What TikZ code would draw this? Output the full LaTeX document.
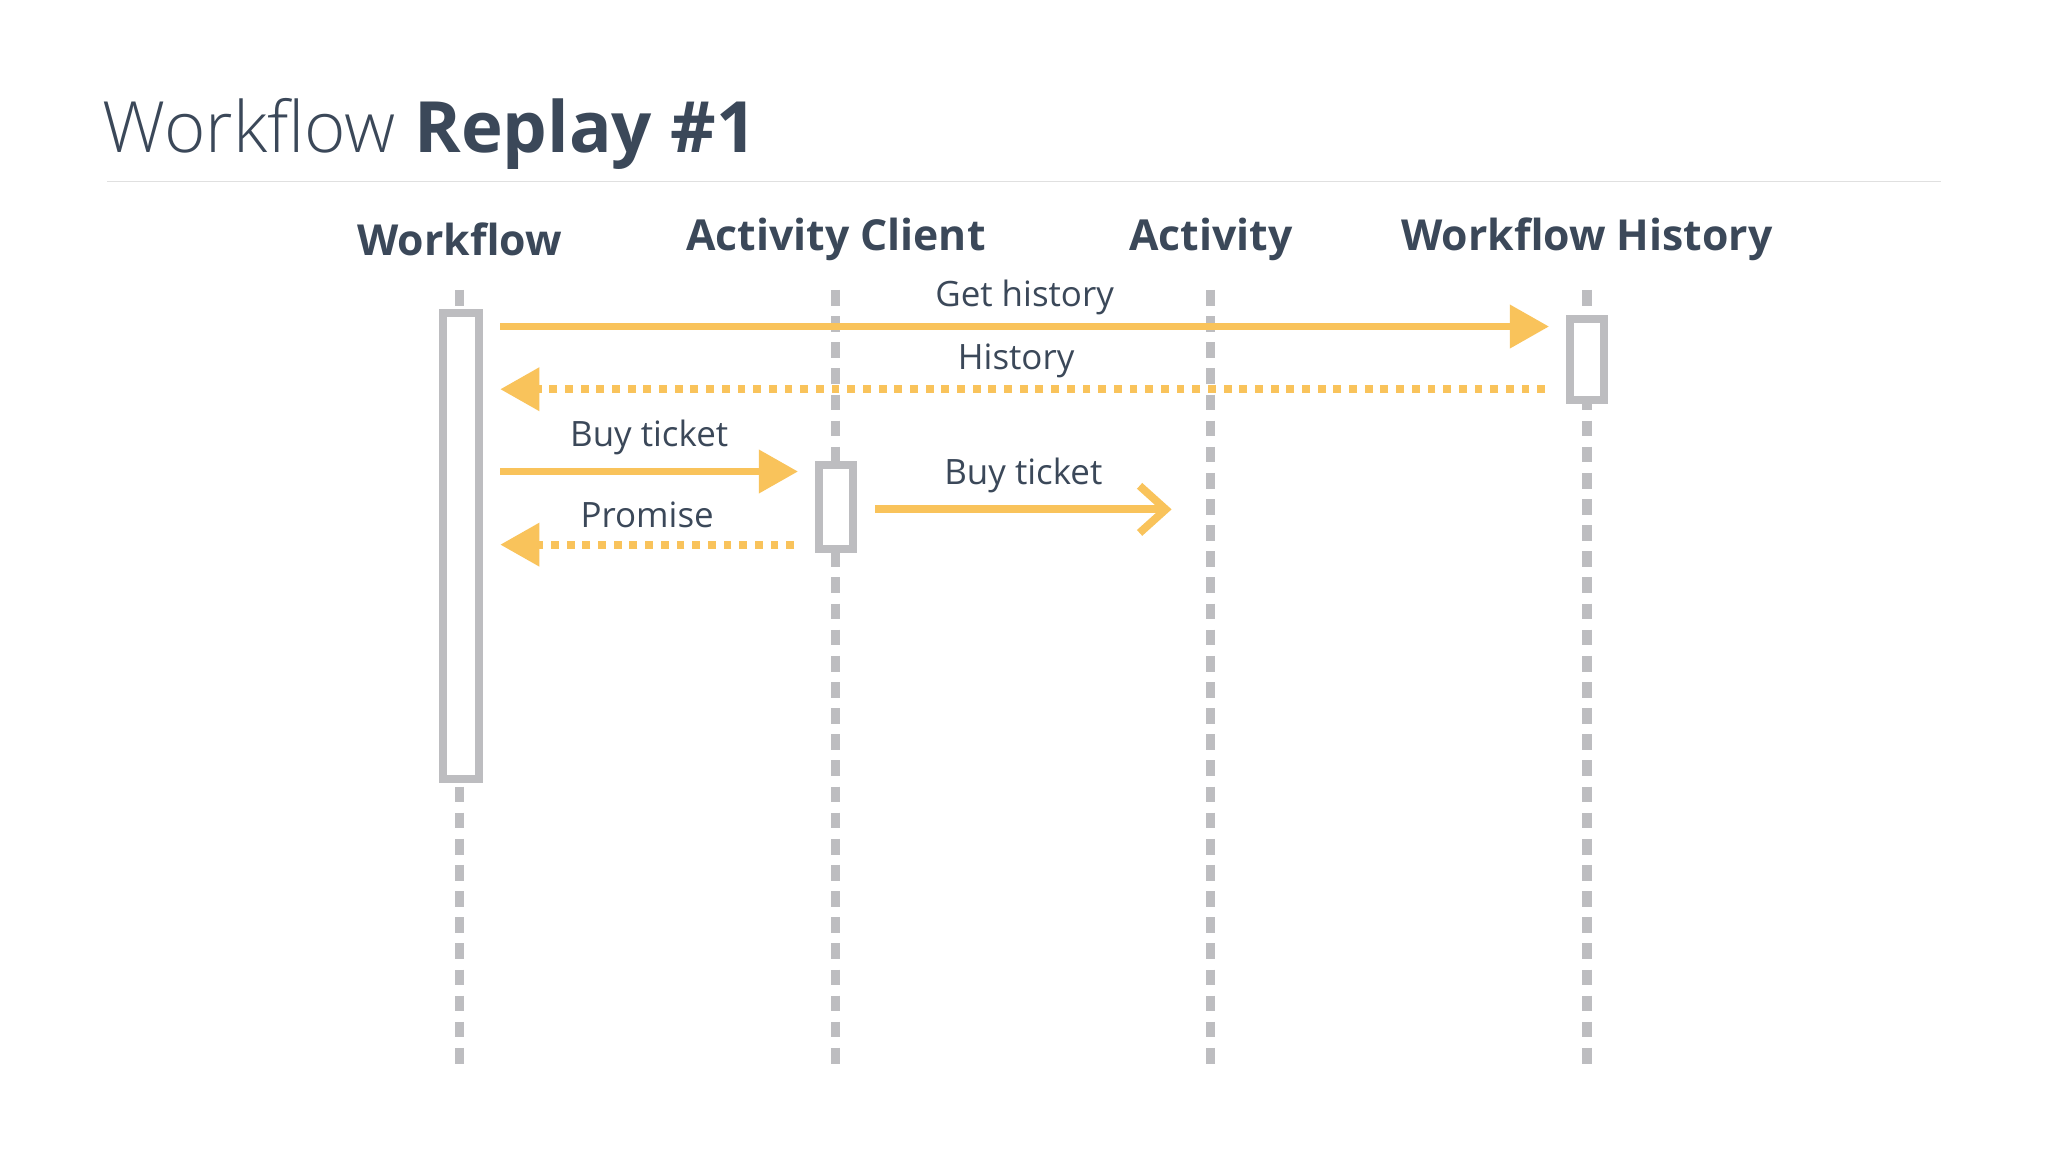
\documentclass[tikz,border=0pt]{standalone}
\usepackage{fontspec}
\setmainfont{Open Sans}
\usetikzlibrary{arrows.meta,positioning}
\definecolor{ink}{HTML}{3B4859}
\definecolor{msg}{HTML}{F9C35B}
\definecolor{life}{HTML}{BDBDC0}
\tikzset{
  head/.style={font=\fontsize{9.3}{11}\selectfont\bfseries, text=ink},
  lbl/.style={font=\fontsize{7.6}{9}\selectfont, text=ink},
  lifeline/.style={draw=life, line width=0.07cm, dash pattern=on 0.12cm off 0.08cm},
  act/.style={draw=life, line width=0.06cm, fill=white},
  call/.style={draw=msg, line width=0.06cm, -{Triangle[length=0.3cm,width=0.32cm]}},
  ret/.style={draw=msg, line width=0.06cm, dash pattern=on 0.06cm off 0.06cm, -{Triangle[length=0.3cm,width=0.32cm]}},
  async/.style={draw=msg, line width=0.06cm, -{Straight Barb[length=0.2cm,width=0.36cm,line width=0.06cm]}}
}
\begin{document}
\begin{tikzpicture}[x=0.01cm,y=-0.01cm]
\useasboundingbox[fill=white] (0,0) rectangle (1568,882);
% title
\node[anchor=base west, inner sep=0, text=ink, font=\fontsize{15.4}{19}\selectfont] (title) at (78,117)
  {{\fontspec{Open Sans Light}Workflow} \textbf{Replay \#1}};
\draw[black!12, line width=0.3pt] (82,139) coordinate (rl) -- (1486,139) coordinate (rr);
% heads
\node[head] (wf) at (352,183) {Workflow};
\node[head] (ac) at (640,183) {Activity Client};
\node[head] (av) at (927,183) {Activity};
\node[head] (wh) at (1215,183) {Workflow History};
% lifelines
\foreach \n/\x in {wf/352,ac/640,av/927,wh/1215}{
  \draw[lifeline] (\x,222) coordinate (\n top) -- (\x,820) coordinate (\n bot);
}
% activations
\node[act, minimum width=0.28cm, minimum height=3.56cm, inner sep=0] (wfa) at (353,418) {};
\node[act, minimum width=0.26cm, minimum height=0.64cm, inner sep=0] (aca) at (640,388) {};
\node[act, minimum width=0.26cm, minimum height=0.62cm, inner sep=0] (wha) at (1215,275) {};
% messages
\coordinate (m1a) at (383,250); \coordinate (m1b) at (1186,250);
\draw[call] (m1a) -- node[lbl, above=-0.06cm] (gh) {Get history} (m1b);
\coordinate (m2a) at (1183,298); \coordinate (m2b) at (383,298);
\draw[ret] (m2a) -- node[lbl, above=-0.06cm, xshift=-0.05cm] (hi) {History} (m2b);
\coordinate (m3a) at (383,361); \coordinate (m3b) at (611,361);
\draw[call] (m3a) -- node[lbl, above=-0.02cm] (bt1) {Buy ticket} (m3b);
\coordinate (m4a) at (608,417); \coordinate (m4b) at (383,417);
\draw[ret] (m4a) -- node[lbl, above=-0.02cm] (pr) {Promise} (m4b);
\coordinate (m5a) at (670,390); \coordinate (m5b) at (897,390);
\draw[async] (m5a) -- node[lbl, above=-0.02cm] (bt2) {Buy ticket} (m5b);
\end{tikzpicture}
\end{document}
